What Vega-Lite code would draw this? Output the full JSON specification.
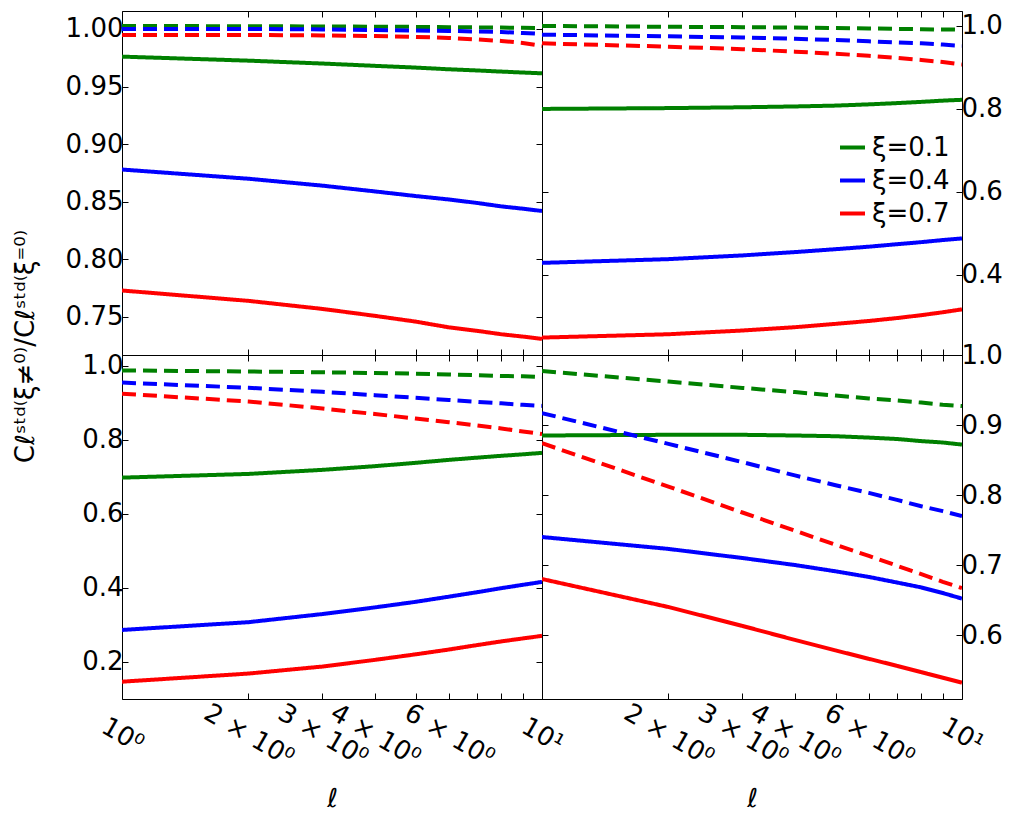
{
  "$schema": "https://vega.github.io/schema/vega-lite/v6.json",
  "padding": {"left": 11, "top": 10, "right": 5, "bottom": 5},
  "columns": 2,
  "spacing": 0,
  "bounds": "flush",
  "resolve": {"scale": {"color": "independent", "strokeDash": "independent"}},
  "datasets": {
    "pts": [
      {"p": "a", "xi": "ξ=0.1", "s": "solid", "l": 1, "v": 0.976},
      {"p": "a", "xi": "ξ=0.1", "s": "solid", "l": 2, "v": 0.9725},
      {"p": "a", "xi": "ξ=0.1", "s": "solid", "l": 3, "v": 0.970},
      {"p": "a", "xi": "ξ=0.1", "s": "solid", "l": 4, "v": 0.968},
      {"p": "a", "xi": "ξ=0.1", "s": "solid", "l": 5, "v": 0.9665},
      {"p": "a", "xi": "ξ=0.1", "s": "solid", "l": 6, "v": 0.965},
      {"p": "a", "xi": "ξ=0.1", "s": "solid", "l": 7, "v": 0.964},
      {"p": "a", "xi": "ξ=0.1", "s": "solid", "l": 8, "v": 0.963},
      {"p": "a", "xi": "ξ=0.1", "s": "solid", "l": 9, "v": 0.9622},
      {"p": "a", "xi": "ξ=0.1", "s": "solid", "l": 10, "v": 0.9615},
      {"p": "a", "xi": "ξ=0.4", "s": "solid", "l": 1, "v": 0.878},
      {"p": "a", "xi": "ξ=0.4", "s": "solid", "l": 2, "v": 0.870},
      {"p": "a", "xi": "ξ=0.4", "s": "solid", "l": 3, "v": 0.864},
      {"p": "a", "xi": "ξ=0.4", "s": "solid", "l": 4, "v": 0.859},
      {"p": "a", "xi": "ξ=0.4", "s": "solid", "l": 5, "v": 0.855},
      {"p": "a", "xi": "ξ=0.4", "s": "solid", "l": 6, "v": 0.852},
      {"p": "a", "xi": "ξ=0.4", "s": "solid", "l": 7, "v": 0.849},
      {"p": "a", "xi": "ξ=0.4", "s": "solid", "l": 8, "v": 0.846},
      {"p": "a", "xi": "ξ=0.4", "s": "solid", "l": 9, "v": 0.844},
      {"p": "a", "xi": "ξ=0.4", "s": "solid", "l": 10, "v": 0.842},
      {"p": "a", "xi": "ξ=0.7", "s": "solid", "l": 1, "v": 0.773},
      {"p": "a", "xi": "ξ=0.7", "s": "solid", "l": 2, "v": 0.764},
      {"p": "a", "xi": "ξ=0.7", "s": "solid", "l": 3, "v": 0.757},
      {"p": "a", "xi": "ξ=0.7", "s": "solid", "l": 4, "v": 0.751},
      {"p": "a", "xi": "ξ=0.7", "s": "solid", "l": 5, "v": 0.746},
      {"p": "a", "xi": "ξ=0.7", "s": "solid", "l": 6, "v": 0.741},
      {"p": "a", "xi": "ξ=0.7", "s": "solid", "l": 7, "v": 0.738},
      {"p": "a", "xi": "ξ=0.7", "s": "solid", "l": 8, "v": 0.735},
      {"p": "a", "xi": "ξ=0.7", "s": "solid", "l": 9, "v": 0.733},
      {"p": "a", "xi": "ξ=0.7", "s": "solid", "l": 10, "v": 0.731},
      {"p": "a", "xi": "ξ=0.1", "s": "dashed", "l": 1, "v": 1.0026},
      {"p": "a", "xi": "ξ=0.1", "s": "dashed", "l": 2, "v": 1.0024},
      {"p": "a", "xi": "ξ=0.1", "s": "dashed", "l": 3, "v": 1.0022},
      {"p": "a", "xi": "ξ=0.1", "s": "dashed", "l": 4, "v": 1.0020},
      {"p": "a", "xi": "ξ=0.1", "s": "dashed", "l": 5, "v": 1.0018},
      {"p": "a", "xi": "ξ=0.1", "s": "dashed", "l": 6, "v": 1.0016},
      {"p": "a", "xi": "ξ=0.1", "s": "dashed", "l": 7, "v": 1.0014},
      {"p": "a", "xi": "ξ=0.1", "s": "dashed", "l": 8, "v": 1.0012},
      {"p": "a", "xi": "ξ=0.1", "s": "dashed", "l": 9, "v": 1.0010},
      {"p": "a", "xi": "ξ=0.1", "s": "dashed", "l": 10, "v": 1.0009},
      {"p": "a", "xi": "ξ=0.4", "s": "dashed", "l": 1, "v": 1.0},
      {"p": "a", "xi": "ξ=0.4", "s": "dashed", "l": 2, "v": 1.0},
      {"p": "a", "xi": "ξ=0.4", "s": "dashed", "l": 3, "v": 0.9996},
      {"p": "a", "xi": "ξ=0.4", "s": "dashed", "l": 4, "v": 0.9991},
      {"p": "a", "xi": "ξ=0.4", "s": "dashed", "l": 5, "v": 0.9987},
      {"p": "a", "xi": "ξ=0.4", "s": "dashed", "l": 6, "v": 0.9983},
      {"p": "a", "xi": "ξ=0.4", "s": "dashed", "l": 7, "v": 0.9978},
      {"p": "a", "xi": "ξ=0.4", "s": "dashed", "l": 8, "v": 0.9974},
      {"p": "a", "xi": "ξ=0.4", "s": "dashed", "l": 9, "v": 0.9965},
      {"p": "a", "xi": "ξ=0.4", "s": "dashed", "l": 10, "v": 0.9957},
      {"p": "a", "xi": "ξ=0.7", "s": "dashed", "l": 1, "v": 0.9948},
      {"p": "a", "xi": "ξ=0.7", "s": "dashed", "l": 2, "v": 0.9948},
      {"p": "a", "xi": "ξ=0.7", "s": "dashed", "l": 3, "v": 0.9944},
      {"p": "a", "xi": "ξ=0.7", "s": "dashed", "l": 4, "v": 0.9939},
      {"p": "a", "xi": "ξ=0.7", "s": "dashed", "l": 5, "v": 0.9931},
      {"p": "a", "xi": "ξ=0.7", "s": "dashed", "l": 6, "v": 0.9922},
      {"p": "a", "xi": "ξ=0.7", "s": "dashed", "l": 7, "v": 0.9909},
      {"p": "a", "xi": "ξ=0.7", "s": "dashed", "l": 8, "v": 0.9896},
      {"p": "a", "xi": "ξ=0.7", "s": "dashed", "l": 9, "v": 0.9879},
      {"p": "a", "xi": "ξ=0.7", "s": "dashed", "l": 10, "v": 0.9853},

      {"p": "b", "xi": "ξ=0.1", "s": "solid", "l": 1, "v": 0.800},
      {"p": "b", "xi": "ξ=0.1", "s": "solid", "l": 2, "v": 0.802},
      {"p": "b", "xi": "ξ=0.1", "s": "solid", "l": 3, "v": 0.804},
      {"p": "b", "xi": "ξ=0.1", "s": "solid", "l": 4, "v": 0.806},
      {"p": "b", "xi": "ξ=0.1", "s": "solid", "l": 5, "v": 0.808},
      {"p": "b", "xi": "ξ=0.1", "s": "solid", "l": 6, "v": 0.811},
      {"p": "b", "xi": "ξ=0.1", "s": "solid", "l": 7, "v": 0.814},
      {"p": "b", "xi": "ξ=0.1", "s": "solid", "l": 8, "v": 0.817},
      {"p": "b", "xi": "ξ=0.1", "s": "solid", "l": 9, "v": 0.820},
      {"p": "b", "xi": "ξ=0.1", "s": "solid", "l": 10, "v": 0.822},
      {"p": "b", "xi": "ξ=0.4", "s": "solid", "l": 1, "v": 0.429},
      {"p": "b", "xi": "ξ=0.4", "s": "solid", "l": 2, "v": 0.438},
      {"p": "b", "xi": "ξ=0.4", "s": "solid", "l": 3, "v": 0.447},
      {"p": "b", "xi": "ξ=0.4", "s": "solid", "l": 4, "v": 0.455},
      {"p": "b", "xi": "ξ=0.4", "s": "solid", "l": 5, "v": 0.462},
      {"p": "b", "xi": "ξ=0.4", "s": "solid", "l": 6, "v": 0.468},
      {"p": "b", "xi": "ξ=0.4", "s": "solid", "l": 7, "v": 0.474},
      {"p": "b", "xi": "ξ=0.4", "s": "solid", "l": 8, "v": 0.479},
      {"p": "b", "xi": "ξ=0.4", "s": "solid", "l": 9, "v": 0.484},
      {"p": "b", "xi": "ξ=0.4", "s": "solid", "l": 10, "v": 0.488},
      {"p": "b", "xi": "ξ=0.7", "s": "solid", "l": 1, "v": 0.249},
      {"p": "b", "xi": "ξ=0.7", "s": "solid", "l": 2, "v": 0.257},
      {"p": "b", "xi": "ξ=0.7", "s": "solid", "l": 3, "v": 0.266},
      {"p": "b", "xi": "ξ=0.7", "s": "solid", "l": 4, "v": 0.274},
      {"p": "b", "xi": "ξ=0.7", "s": "solid", "l": 5, "v": 0.282},
      {"p": "b", "xi": "ξ=0.7", "s": "solid", "l": 6, "v": 0.289},
      {"p": "b", "xi": "ξ=0.7", "s": "solid", "l": 7, "v": 0.296},
      {"p": "b", "xi": "ξ=0.7", "s": "solid", "l": 8, "v": 0.303},
      {"p": "b", "xi": "ξ=0.7", "s": "solid", "l": 9, "v": 0.310},
      {"p": "b", "xi": "ξ=0.7", "s": "solid", "l": 10, "v": 0.317},
      {"p": "b", "xi": "ξ=0.1", "s": "dashed", "l": 1, "v": 1.000},
      {"p": "b", "xi": "ξ=0.1", "s": "dashed", "l": 2, "v": 0.998},
      {"p": "b", "xi": "ξ=0.1", "s": "dashed", "l": 3, "v": 0.997},
      {"p": "b", "xi": "ξ=0.1", "s": "dashed", "l": 4, "v": 0.996},
      {"p": "b", "xi": "ξ=0.1", "s": "dashed", "l": 5, "v": 0.995},
      {"p": "b", "xi": "ξ=0.1", "s": "dashed", "l": 6, "v": 0.994},
      {"p": "b", "xi": "ξ=0.1", "s": "dashed", "l": 7, "v": 0.993},
      {"p": "b", "xi": "ξ=0.1", "s": "dashed", "l": 8, "v": 0.992},
      {"p": "b", "xi": "ξ=0.1", "s": "dashed", "l": 9, "v": 0.9915},
      {"p": "b", "xi": "ξ=0.1", "s": "dashed", "l": 10, "v": 0.991},
      {"p": "b", "xi": "ξ=0.4", "s": "dashed", "l": 1, "v": 0.979},
      {"p": "b", "xi": "ξ=0.4", "s": "dashed", "l": 2, "v": 0.975},
      {"p": "b", "xi": "ξ=0.4", "s": "dashed", "l": 3, "v": 0.972},
      {"p": "b", "xi": "ξ=0.4", "s": "dashed", "l": 4, "v": 0.969},
      {"p": "b", "xi": "ξ=0.4", "s": "dashed", "l": 5, "v": 0.966},
      {"p": "b", "xi": "ξ=0.4", "s": "dashed", "l": 6, "v": 0.963},
      {"p": "b", "xi": "ξ=0.4", "s": "dashed", "l": 7, "v": 0.960},
      {"p": "b", "xi": "ξ=0.4", "s": "dashed", "l": 8, "v": 0.958},
      {"p": "b", "xi": "ξ=0.4", "s": "dashed", "l": 9, "v": 0.955},
      {"p": "b", "xi": "ξ=0.4", "s": "dashed", "l": 10, "v": 0.952},
      {"p": "b", "xi": "ξ=0.7", "s": "dashed", "l": 1, "v": 0.958},
      {"p": "b", "xi": "ξ=0.7", "s": "dashed", "l": 2, "v": 0.950},
      {"p": "b", "xi": "ξ=0.7", "s": "dashed", "l": 3, "v": 0.944},
      {"p": "b", "xi": "ξ=0.7", "s": "dashed", "l": 4, "v": 0.938},
      {"p": "b", "xi": "ξ=0.7", "s": "dashed", "l": 5, "v": 0.933},
      {"p": "b", "xi": "ξ=0.7", "s": "dashed", "l": 6, "v": 0.928},
      {"p": "b", "xi": "ξ=0.7", "s": "dashed", "l": 7, "v": 0.923},
      {"p": "b", "xi": "ξ=0.7", "s": "dashed", "l": 8, "v": 0.918},
      {"p": "b", "xi": "ξ=0.7", "s": "dashed", "l": 9, "v": 0.913},
      {"p": "b", "xi": "ξ=0.7", "s": "dashed", "l": 10, "v": 0.907},

      {"p": "c", "xi": "ξ=0.1", "s": "solid", "l": 1, "v": 0.698},
      {"p": "c", "xi": "ξ=0.1", "s": "solid", "l": 2, "v": 0.708},
      {"p": "c", "xi": "ξ=0.1", "s": "solid", "l": 3, "v": 0.719},
      {"p": "c", "xi": "ξ=0.1", "s": "solid", "l": 4, "v": 0.729},
      {"p": "c", "xi": "ξ=0.1", "s": "solid", "l": 5, "v": 0.738},
      {"p": "c", "xi": "ξ=0.1", "s": "solid", "l": 6, "v": 0.746},
      {"p": "c", "xi": "ξ=0.1", "s": "solid", "l": 7, "v": 0.752},
      {"p": "c", "xi": "ξ=0.1", "s": "solid", "l": 8, "v": 0.757},
      {"p": "c", "xi": "ξ=0.1", "s": "solid", "l": 9, "v": 0.761},
      {"p": "c", "xi": "ξ=0.1", "s": "solid", "l": 10, "v": 0.765},
      {"p": "c", "xi": "ξ=0.4", "s": "solid", "l": 1, "v": 0.286},
      {"p": "c", "xi": "ξ=0.4", "s": "solid", "l": 2, "v": 0.307},
      {"p": "c", "xi": "ξ=0.4", "s": "solid", "l": 3, "v": 0.329},
      {"p": "c", "xi": "ξ=0.4", "s": "solid", "l": 4, "v": 0.347},
      {"p": "c", "xi": "ξ=0.4", "s": "solid", "l": 5, "v": 0.362},
      {"p": "c", "xi": "ξ=0.4", "s": "solid", "l": 6, "v": 0.376},
      {"p": "c", "xi": "ξ=0.4", "s": "solid", "l": 7, "v": 0.388},
      {"p": "c", "xi": "ξ=0.4", "s": "solid", "l": 8, "v": 0.399},
      {"p": "c", "xi": "ξ=0.4", "s": "solid", "l": 9, "v": 0.408},
      {"p": "c", "xi": "ξ=0.4", "s": "solid", "l": 10, "v": 0.416},
      {"p": "c", "xi": "ξ=0.7", "s": "solid", "l": 1, "v": 0.146},
      {"p": "c", "xi": "ξ=0.7", "s": "solid", "l": 2, "v": 0.168},
      {"p": "c", "xi": "ξ=0.7", "s": "solid", "l": 3, "v": 0.187},
      {"p": "c", "xi": "ξ=0.7", "s": "solid", "l": 4, "v": 0.205},
      {"p": "c", "xi": "ξ=0.7", "s": "solid", "l": 5, "v": 0.220},
      {"p": "c", "xi": "ξ=0.7", "s": "solid", "l": 6, "v": 0.233},
      {"p": "c", "xi": "ξ=0.7", "s": "solid", "l": 7, "v": 0.245},
      {"p": "c", "xi": "ξ=0.7", "s": "solid", "l": 8, "v": 0.255},
      {"p": "c", "xi": "ξ=0.7", "s": "solid", "l": 9, "v": 0.263},
      {"p": "c", "xi": "ξ=0.7", "s": "solid", "l": 10, "v": 0.270},
      {"p": "c", "xi": "ξ=0.1", "s": "dashed", "l": 1, "v": 0.988},
      {"p": "c", "xi": "ξ=0.1", "s": "dashed", "l": 2, "v": 0.985},
      {"p": "c", "xi": "ξ=0.1", "s": "dashed", "l": 3, "v": 0.983},
      {"p": "c", "xi": "ξ=0.1", "s": "dashed", "l": 4, "v": 0.981},
      {"p": "c", "xi": "ξ=0.1", "s": "dashed", "l": 5, "v": 0.979},
      {"p": "c", "xi": "ξ=0.1", "s": "dashed", "l": 6, "v": 0.977},
      {"p": "c", "xi": "ξ=0.1", "s": "dashed", "l": 7, "v": 0.975},
      {"p": "c", "xi": "ξ=0.1", "s": "dashed", "l": 8, "v": 0.973},
      {"p": "c", "xi": "ξ=0.1", "s": "dashed", "l": 9, "v": 0.972},
      {"p": "c", "xi": "ξ=0.1", "s": "dashed", "l": 10, "v": 0.970},
      {"p": "c", "xi": "ξ=0.4", "s": "dashed", "l": 1, "v": 0.955},
      {"p": "c", "xi": "ξ=0.4", "s": "dashed", "l": 2, "v": 0.941},
      {"p": "c", "xi": "ξ=0.4", "s": "dashed", "l": 3, "v": 0.930},
      {"p": "c", "xi": "ξ=0.4", "s": "dashed", "l": 4, "v": 0.921},
      {"p": "c", "xi": "ξ=0.4", "s": "dashed", "l": 5, "v": 0.914},
      {"p": "c", "xi": "ξ=0.4", "s": "dashed", "l": 6, "v": 0.908},
      {"p": "c", "xi": "ξ=0.4", "s": "dashed", "l": 7, "v": 0.903},
      {"p": "c", "xi": "ξ=0.4", "s": "dashed", "l": 8, "v": 0.899},
      {"p": "c", "xi": "ξ=0.4", "s": "dashed", "l": 9, "v": 0.895},
      {"p": "c", "xi": "ξ=0.4", "s": "dashed", "l": 10, "v": 0.892},
      {"p": "c", "xi": "ξ=0.7", "s": "dashed", "l": 1, "v": 0.925},
      {"p": "c", "xi": "ξ=0.7", "s": "dashed", "l": 2, "v": 0.904},
      {"p": "c", "xi": "ξ=0.7", "s": "dashed", "l": 3, "v": 0.885},
      {"p": "c", "xi": "ξ=0.7", "s": "dashed", "l": 4, "v": 0.870},
      {"p": "c", "xi": "ξ=0.7", "s": "dashed", "l": 5, "v": 0.858},
      {"p": "c", "xi": "ξ=0.7", "s": "dashed", "l": 6, "v": 0.848},
      {"p": "c", "xi": "ξ=0.7", "s": "dashed", "l": 7, "v": 0.839},
      {"p": "c", "xi": "ξ=0.7", "s": "dashed", "l": 8, "v": 0.831},
      {"p": "c", "xi": "ξ=0.7", "s": "dashed", "l": 9, "v": 0.823},
      {"p": "c", "xi": "ξ=0.7", "s": "dashed", "l": 10, "v": 0.816},

      {"p": "d", "xi": "ξ=0.1", "s": "solid", "l": 1, "v": 0.885},
      {"p": "d", "xi": "ξ=0.1", "s": "solid", "l": 2, "v": 0.886},
      {"p": "d", "xi": "ξ=0.1", "s": "solid", "l": 3, "v": 0.886},
      {"p": "d", "xi": "ξ=0.1", "s": "solid", "l": 4, "v": 0.885},
      {"p": "d", "xi": "ξ=0.1", "s": "solid", "l": 5, "v": 0.884},
      {"p": "d", "xi": "ξ=0.1", "s": "solid", "l": 6, "v": 0.882},
      {"p": "d", "xi": "ξ=0.1", "s": "solid", "l": 7, "v": 0.880},
      {"p": "d", "xi": "ξ=0.1", "s": "solid", "l": 8, "v": 0.877},
      {"p": "d", "xi": "ξ=0.1", "s": "solid", "l": 9, "v": 0.875},
      {"p": "d", "xi": "ξ=0.1", "s": "solid", "l": 10, "v": 0.872},
      {"p": "d", "xi": "ξ=0.4", "s": "solid", "l": 1, "v": 0.740},
      {"p": "d", "xi": "ξ=0.4", "s": "solid", "l": 2, "v": 0.723},
      {"p": "d", "xi": "ξ=0.4", "s": "solid", "l": 3, "v": 0.710},
      {"p": "d", "xi": "ξ=0.4", "s": "solid", "l": 4, "v": 0.700},
      {"p": "d", "xi": "ξ=0.4", "s": "solid", "l": 5, "v": 0.691},
      {"p": "d", "xi": "ξ=0.4", "s": "solid", "l": 6, "v": 0.683},
      {"p": "d", "xi": "ξ=0.4", "s": "solid", "l": 7, "v": 0.675},
      {"p": "d", "xi": "ξ=0.4", "s": "solid", "l": 8, "v": 0.668},
      {"p": "d", "xi": "ξ=0.4", "s": "solid", "l": 9, "v": 0.660},
      {"p": "d", "xi": "ξ=0.4", "s": "solid", "l": 10, "v": 0.652},
      {"p": "d", "xi": "ξ=0.7", "s": "solid", "l": 1, "v": 0.680},
      {"p": "d", "xi": "ξ=0.7", "s": "solid", "l": 2, "v": 0.640},
      {"p": "d", "xi": "ξ=0.7", "s": "solid", "l": 3, "v": 0.613},
      {"p": "d", "xi": "ξ=0.7", "s": "solid", "l": 4, "v": 0.593},
      {"p": "d", "xi": "ξ=0.7", "s": "solid", "l": 5, "v": 0.578},
      {"p": "d", "xi": "ξ=0.7", "s": "solid", "l": 6, "v": 0.566},
      {"p": "d", "xi": "ξ=0.7", "s": "solid", "l": 7, "v": 0.556},
      {"p": "d", "xi": "ξ=0.7", "s": "solid", "l": 8, "v": 0.547},
      {"p": "d", "xi": "ξ=0.7", "s": "solid", "l": 9, "v": 0.539},
      {"p": "d", "xi": "ξ=0.7", "s": "solid", "l": 10, "v": 0.532},
      {"p": "d", "xi": "ξ=0.1", "s": "dashed", "l": 1, "v": 0.977},
      {"p": "d", "xi": "ξ=0.1", "s": "dashed", "l": 2, "v": 0.962},
      {"p": "d", "xi": "ξ=0.1", "s": "dashed", "l": 3, "v": 0.953},
      {"p": "d", "xi": "ξ=0.1", "s": "dashed", "l": 4, "v": 0.947},
      {"p": "d", "xi": "ξ=0.1", "s": "dashed", "l": 5, "v": 0.942},
      {"p": "d", "xi": "ξ=0.1", "s": "dashed", "l": 6, "v": 0.938},
      {"p": "d", "xi": "ξ=0.1", "s": "dashed", "l": 7, "v": 0.935},
      {"p": "d", "xi": "ξ=0.1", "s": "dashed", "l": 8, "v": 0.932},
      {"p": "d", "xi": "ξ=0.1", "s": "dashed", "l": 9, "v": 0.929},
      {"p": "d", "xi": "ξ=0.1", "s": "dashed", "l": 10, "v": 0.927},
      {"p": "d", "xi": "ξ=0.4", "s": "dashed", "l": 1, "v": 0.917},
      {"p": "d", "xi": "ξ=0.4", "s": "dashed", "l": 2, "v": 0.873},
      {"p": "d", "xi": "ξ=0.4", "s": "dashed", "l": 3, "v": 0.847},
      {"p": "d", "xi": "ξ=0.4", "s": "dashed", "l": 4, "v": 0.828},
      {"p": "d", "xi": "ξ=0.4", "s": "dashed", "l": 5, "v": 0.814},
      {"p": "d", "xi": "ξ=0.4", "s": "dashed", "l": 6, "v": 0.803},
      {"p": "d", "xi": "ξ=0.4", "s": "dashed", "l": 7, "v": 0.793},
      {"p": "d", "xi": "ξ=0.4", "s": "dashed", "l": 8, "v": 0.784},
      {"p": "d", "xi": "ξ=0.4", "s": "dashed", "l": 9, "v": 0.777},
      {"p": "d", "xi": "ξ=0.4", "s": "dashed", "l": 10, "v": 0.770},
      {"p": "d", "xi": "ξ=0.7", "s": "dashed", "l": 1, "v": 0.874},
      {"p": "d", "xi": "ξ=0.7", "s": "dashed", "l": 2, "v": 0.812},
      {"p": "d", "xi": "ξ=0.7", "s": "dashed", "l": 3, "v": 0.775},
      {"p": "d", "xi": "ξ=0.7", "s": "dashed", "l": 4, "v": 0.749},
      {"p": "d", "xi": "ξ=0.7", "s": "dashed", "l": 5, "v": 0.729},
      {"p": "d", "xi": "ξ=0.7", "s": "dashed", "l": 6, "v": 0.713},
      {"p": "d", "xi": "ξ=0.7", "s": "dashed", "l": 7, "v": 0.699},
      {"p": "d", "xi": "ξ=0.7", "s": "dashed", "l": 8, "v": 0.687},
      {"p": "d", "xi": "ξ=0.7", "s": "dashed", "l": 9, "v": 0.676},
      {"p": "d", "xi": "ξ=0.7", "s": "dashed", "l": 10, "v": 0.667}
    ]
  },
  "data": {"name": "pts"},
  "concat": [
    {
      "width": 420,
      "height": 344,
      "transform": [{"filter": "datum.p == 'a'"}],
      "layer": [
        {
          "mark": {"type": "line", "strokeWidth": 4, "clip": true},
          "encoding": {
            "x": {"field": "l", "type": "quantitative", "scale": {"type": "log", "domain": [1, 10], "nice": false},
                  "axis": {"orient": "bottom", "values": [1, 2, 3, 4, 5, 6, 7, 8, 9, 10], "labels": false, "title": null}},
            "y": {"field": "v", "type": "quantitative", "scale": {"domain": [0.717, 1.0156], "nice": false, "zero": false},
                  "axis": {"orient": "left", "values": [0.75, 0.8, 0.85, 0.9, 0.95, 1.0], "format": ".2f", "labelFont": "DejaVu Sans",
                           "title": "Cℓˢᵗᵈ⁽ξ≠⁰⁾/Cℓˢᵗᵈ⁽ξ⁼⁰⁾", "titleX": -97, "titleY": 335, "titleAngle": -90,
                           "titleAlign": "center", "titleBaseline": "middle"}},
            "color": {"field": "xi", "type": "nominal", "scale": {"domain": ["ξ=0.1", "ξ=0.4", "ξ=0.7"], "range": ["#008000", "#0000ff", "#ff0000"]}, "legend": null},
            "strokeDash": {"field": "s", "type": "nominal", "scale": {"domain": ["solid", "dashed"], "range": [[1, 0], [14, 7]]}, "legend": null}
          }
        },
        {
          "mark": {"type": "line", "opacity": 0},
          "encoding": {
            "x": {"field": "l", "type": "quantitative", "axis": {"orient": "top", "values": [1, 2, 3, 4, 5, 6, 7, 8, 9, 10], "labels": false, "title": null}},
            "y": {"field": "v", "type": "quantitative", "axis": {"orient": "right", "values": [0.75, 0.8, 0.85, 0.9, 0.95, 1.0], "labels": false, "title": null}},
            "detail": {"field": "xi"}
          }
        }
      ]
    },
    {
      "width": 420,
      "height": 344,
      "transform": [{"filter": "datum.p == 'b'"}],
      "layer": [
        {
          "mark": {"type": "line", "strokeWidth": 4, "clip": true},
          "encoding": {
            "x": {"field": "l", "type": "quantitative", "scale": {"type": "log", "domain": [1, 10], "nice": false},
                  "axis": {"orient": "bottom", "values": [1, 2, 3, 4, 5, 6, 7, 8, 9, 10], "labels": false, "title": null}},
            "y": {"field": "v", "type": "quantitative", "scale": {"domain": [0.207, 1.036], "nice": false, "zero": false},
                  "axis": {"orient": "right", "values": [0.4, 0.6, 0.8, 1.0], "format": ".1f", "title": null, "labelFont": "DejaVu Sans"}},
            "color": {"field": "xi", "type": "nominal", "scale": {"domain": ["ξ=0.1", "ξ=0.4", "ξ=0.7"], "range": ["#008000", "#0000ff", "#ff0000"]},
                      "legend": {"orient": "none", "legendX": 296, "legendY": 122, "title": null, "symbolType": "stroke", "symbolStrokeWidth": 4,
                                 "symbolSize": 625, "labelFontSize": 26, "labelOffset": 5, "rowPadding": 5, "labelFont": "DejaVu Sans", "labelColor": "black"}},
            "strokeDash": {"field": "s", "type": "nominal", "scale": {"domain": ["solid", "dashed"], "range": [[1, 0], [14, 7]]}, "legend": null}
          }
        },
        {
          "mark": {"type": "line", "opacity": 0},
          "encoding": {
            "x": {"field": "l", "type": "quantitative", "axis": {"orient": "top", "values": [1, 2, 3, 4, 5, 6, 7, 8, 9, 10], "labels": false, "title": null}},
            "y": {"field": "v", "type": "quantitative", "axis": {"orient": "left", "values": [0.4, 0.6, 0.8, 1.0], "labels": false, "title": null}},
            "detail": {"field": "xi"}
          }
        }
      ]
    },
    {
      "width": 420,
      "height": 344,
      "transform": [{"filter": "datum.p == 'c'"}],
      "layer": [
        {
          "mark": {"type": "line", "strokeWidth": 4, "clip": true},
          "encoding": {
            "x": {"field": "l", "type": "quantitative", "scale": {"type": "log", "domain": [1, 10], "nice": false},
                  "axis": {"orient": "bottom", "values": [1, 2, 3, 4, 5, 6, 7, 8, 9, 10], "labelFont": "DejaVu Sans",
                           "labelExpr": "datum.value == 1 ? '10⁰' : datum.value == 10 ? '10¹' : (datum.value == 2 || datum.value == 3 || datum.value == 4 || datum.value == 6) ? datum.value + ' × 10⁰' : ''",
                           "labelAngle": 30, "labelAlign": "center", "labelBaseline": "middle", "labelPadding": 42,
                           "title": "ℓ", "titleFont": "DejaVu Sans", "titleFontStyle": "italic", "titleY": 99, "titleBaseline": "middle"}},
            "y": {"field": "v", "type": "quantitative", "scale": {"domain": [0.0992, 1.0297], "nice": false, "zero": false},
                  "axis": {"orient": "left", "values": [0.2, 0.4, 0.6, 0.8, 1.0], "format": ".1f", "title": null, "labelFont": "DejaVu Sans"}},
            "color": {"field": "xi", "type": "nominal", "scale": {"domain": ["ξ=0.1", "ξ=0.4", "ξ=0.7"], "range": ["#008000", "#0000ff", "#ff0000"]}, "legend": null},
            "strokeDash": {"field": "s", "type": "nominal", "scale": {"domain": ["solid", "dashed"], "range": [[1, 0], [14, 7]]}, "legend": null}
          }
        },
        {
          "mark": {"type": "line", "opacity": 0},
          "encoding": {
            "x": {"field": "l", "type": "quantitative", "axis": {"orient": "top", "values": [1, 2, 3, 4, 5, 6, 7, 8, 9, 10], "labels": false, "title": null}},
            "y": {"field": "v", "type": "quantitative", "axis": {"orient": "right", "values": [0.2, 0.4, 0.6, 0.8, 1.0], "labels": false, "title": null}},
            "detail": {"field": "xi"}
          }
        }
      ]
    },
    {
      "width": 420,
      "height": 344,
      "transform": [{"filter": "datum.p == 'd'"}],
      "layer": [
        {
          "mark": {"type": "line", "strokeWidth": 4, "clip": true},
          "encoding": {
            "x": {"field": "l", "type": "quantitative", "scale": {"type": "log", "domain": [1, 10], "nice": false},
                  "axis": {"orient": "bottom", "values": [1, 2, 3, 4, 5, 6, 7, 8, 9, 10], "labelFont": "DejaVu Sans",
                           "labelExpr": "datum.value == 10 ? '10¹' : (datum.value == 2 || datum.value == 3 || datum.value == 4 || datum.value == 6) ? datum.value + ' × 10⁰' : ''",
                           "labelAngle": 30, "labelAlign": "center", "labelBaseline": "middle", "labelPadding": 42,
                           "title": "ℓ", "titleFont": "DejaVu Sans", "titleFontStyle": "italic", "titleY": 99, "titleBaseline": "middle"}},
            "y": {"field": "v", "type": "quantitative", "scale": {"domain": [0.5086, 1.0], "nice": false, "zero": false},
                  "axis": {"orient": "right", "values": [0.6, 0.7, 0.8, 0.9, 1.0], "format": ".1f", "title": null, "labelFont": "DejaVu Sans"}},
            "color": {"field": "xi", "type": "nominal", "scale": {"domain": ["ξ=0.1", "ξ=0.4", "ξ=0.7"], "range": ["#008000", "#0000ff", "#ff0000"]}, "legend": null},
            "strokeDash": {"field": "s", "type": "nominal", "scale": {"domain": ["solid", "dashed"], "range": [[1, 0], [14, 7]]}, "legend": null}
          }
        },
        {
          "mark": {"type": "line", "opacity": 0},
          "encoding": {
            "x": {"field": "l", "type": "quantitative", "axis": {"orient": "top", "values": [1, 2, 3, 4, 5, 6, 7, 8, 9, 10], "labels": false, "title": null}},
            "y": {"field": "v", "type": "quantitative", "axis": {"orient": "left", "values": [0.6, 0.7, 0.8, 0.9, 1.0], "labels": false, "title": null}},
            "detail": {"field": "xi"}
          }
        }
      ]
    }
  ],
  "config": {
    "font": "DejaVu Sans",
    "view": {"stroke": "black", "strokeWidth": 1},
    "style": {"guide-label": {"font": "DejaVu Sans"}, "guide-title": {"font": "DejaVu Sans"}},
    "axis": {
      "domain": false,
      "grid": false,
      "tickSize": -6,
      "tickColor": "black",
      "tickWidth": 1,
      "labelFont": "DejaVu Sans",
      "labelFontSize": 26,
      "labelColor": "black",
      "labelOverlap": false,
      "labelFlush": false,
      "labelBound": false,
      "labelPadding": 5,
      "titleFont": "DejaVu Sans",
      "titleFontSize": 26,
      "titleFontWeight": "normal",
      "titleColor": "black"
    }
  }
}
